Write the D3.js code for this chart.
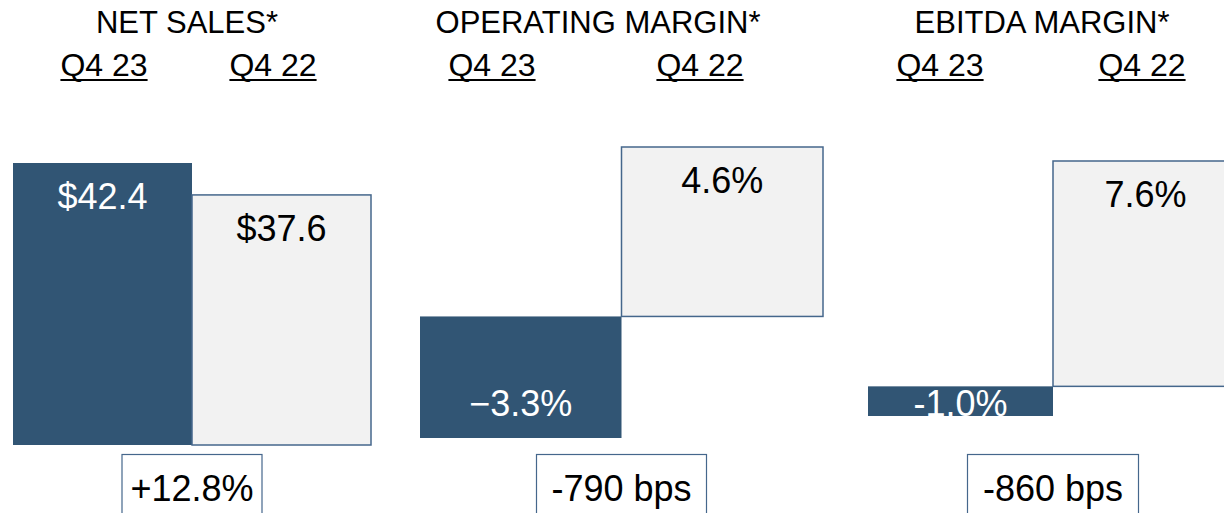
<!DOCTYPE html>
<html>
<head>
<meta charset="utf-8">
<script src="https://cdn.jsdelivr.net/npm/d3@7"></script>
<style>
  html, body { margin: 0; padding: 0; background: #fff; }
  svg { display: block; font-family: "Liberation Sans", Arial, sans-serif; }
</style>
</head>
<body>
<svg id="chart"></svg>
<script>
// data
const periods = ["Q4 23", "Q4 22"];
const metrics = ["NET SALES*", "OPERATING MARGIN*", "EBITDA MARGIN*"];
const netSales = [42.4, 37.6];
const operatingMargin = [-3.3, 4.6];
const ebitdaMargin = [-1.0, 7.6];
const valueLabels = [["$42.4", "$37.6"], ["\u22123.3%", "4.6%"], ["-1.0%", "7.6%"]];
const changeLabels = ["+12.8%", "-790 bps", "-860 bps"];

const width = 1224, height = 513;
const darkBlue = "#315574";
const lightGrey = "#f2f2f2";
const edge = "#45678c";

// panel layout (pixels) : bar area, value scale and header positions
const panels = [
    { values: netSales, x0: 13, barW: 179, yTop: 163, yBottom: 445, domain: [0, 42.4],
      titleX: 187, headX: [104, 273], boxW: 140 },
    { values: operatingMargin, x0: 420, barW: 201.5, yTop: 147, yBottom: 438, domain: [-3.3, 4.6],
      titleX: 598, headX: [492, 700], boxW: 170 },
    { values: ebitdaMargin, x0: 868, barW: 185, yTop: 161, yBottom: 416, domain: [-1.0, 7.6],
      titleX: 1042, headX: [940, 1142], boxW: 171 }
];

const svg = d3.select("#chart")
    .attr("width", width)
    .attr("height", height);

panels.forEach((p, k) => {
    const g = svg.append("g");

    const x = d3.scaleBand()
        .domain(periods)
        .range([p.x0, p.x0 + 2 * p.barW])
        .padding(0);

    const y = d3.scaleLinear()
        .domain(p.domain)
        .range([p.yBottom, p.yTop]);

    // titles
    g.append("text")
        .attr("x", p.titleX)
        .attr("y", 33)
        .attr("text-anchor", "middle")
        .attr("font-size", 31)
        .attr("fill", "#000")
        .text(metrics[k]);

    // period headers, underlined
    const heads = g.selectAll("g.head")
        .data(periods)
        .join("g")
        .attr("class", "head");

    heads.append("text")
        .attr("x", (d, i) => p.headX[i])
        .attr("y", 76)
        .attr("text-anchor", "middle")
        .attr("font-size", 32)
        .attr("fill", "#000")
        .text(d => d);

    heads.each(function (d, i) {
        const t = d3.select(this).select("text").node();
        const w = t.getComputedTextLength();
        d3.select(this).append("line")
            .attr("x1", p.headX[i] - w / 2)
            .attr("x2", p.headX[i] + w / 2)
            .attr("y1", 80)
            .attr("y2", 80)
            .attr("stroke", "#000")
            .attr("stroke-width", 2);
    });

    const rows = periods.map((per, i) => ({ period: per, value: p.values[i], label: valueLabels[k][i], i }));

    // bars
    g.selectAll("rect.bar")
        .data(rows)
        .join("rect")
        .attr("class", "bar")
        .attr("x", d => x(d.period))
        .attr("width", x.bandwidth())
        .attr("y", d => Math.min(y(0), y(d.value)))
        .attr("height", d => Math.abs(y(d.value) - y(0)))
        .attr("fill", d => d.i === 0 ? darkBlue : lightGrey)
        .attr("stroke", d => d.i === 0 ? "none" : edge)
        .attr("stroke-width", 1.5);

    // value labels
    g.selectAll("text.val")
        .data(rows)
        .join("text")
        .attr("class", "val")
        .attr("x", d => x(d.period) + x.bandwidth() / 2)
        .attr("y", d => {
            const top = Math.min(y(0), y(d.value));
            const bottom = Math.max(y(0), y(d.value));
            return d.value >= 0 ? top + 46 : Math.max(bottom - 22, top + 30);
        })
        .attr("text-anchor", "middle")
        .attr("font-size", 36)
        .attr("fill", d => d.i === 0 ? "#fff" : "#000")
        .text(d => d.label);

    // change box
    const cx = x(periods[1]);
    g.append("rect")
        .attr("x", cx - p.boxW / 2)
        .attr("y", 454.5)
        .attr("width", p.boxW)
        .attr("height", 80)
        .attr("fill", "#fff")
        .attr("stroke", edge)
        .attr("stroke-width", 1.2);

    g.append("text")
        .attr("x", cx)
        .attr("y", 501)
        .attr("text-anchor", "middle")
        .attr("font-size", 36)
        .attr("fill", "#000")
        .text(changeLabels[k]);
});
</script>
</body>
</html>
